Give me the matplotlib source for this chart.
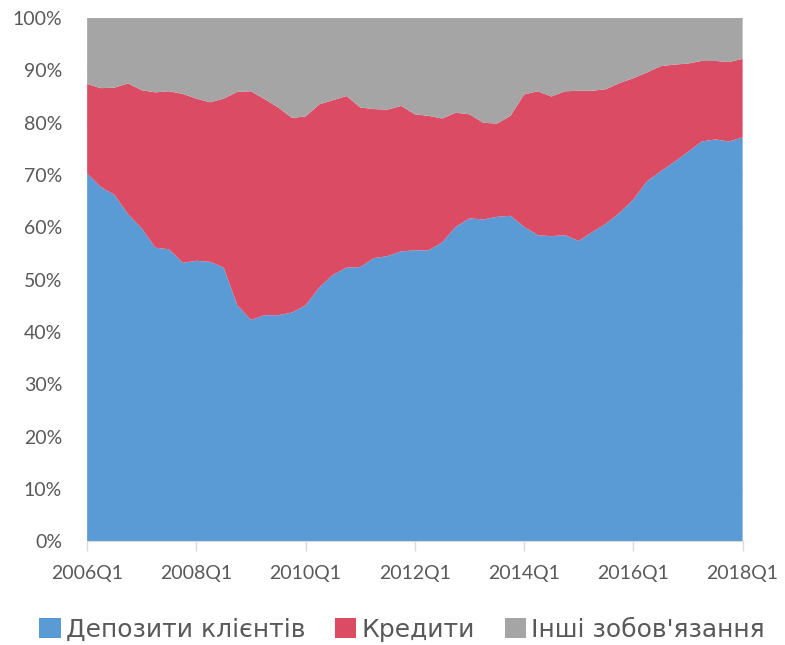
import numpy as np
import matplotlib
matplotlib.use("Agg")
import matplotlib.pyplot as plt
from matplotlib.ticker import PercentFormatter

plt.rcParams['font.family'] = ['Lato', 'Roboto', 'DejaVu Sans']

# quarterly shares, % (2006Q1 .. 2018Q1)
quarters = [f"{y}Q{q}" for y in range(2006, 2019) for q in range(1, 5)][:49]

deposits = [70.3, 67.7, 66.2, 62.5, 59.8, 56.1, 55.8, 53.2, 53.6, 53.4, 52.3,
            45.1, 42.3, 43.2, 43.2, 43.7, 45.1,
            48.5, 50.9, 52.3, 52.4, 54.1, 54.5, 55.4, 55.6, 55.6, 57.1, 60.1,
            61.7, 61.5, 62.0, 62.2,
            60.1, 58.5, 58.3, 58.5, 57.4, 59.1, 60.7, 62.8, 65.3, 68.8, 70.7,
            72.5, 74.4, 76.4, 76.8, 76.4, 77.2]
credits = [17.1, 18.9, 20.5, 25.0, 26.4, 29.7, 30.2, 32.3, 31.0, 30.5, 32.3,
           40.8, 43.7, 41.3, 39.7, 37.2, 36.1,
           35.0, 33.4, 32.8, 30.5, 28.5, 28.0, 27.8, 26.0, 25.7, 23.7, 21.8,
           19.9, 18.5, 17.8, 19.1,
           25.3, 27.5, 26.7, 27.5, 28.7, 27.0, 25.7, 24.8, 23.2, 20.8, 20.1,
           18.6, 16.9, 15.4, 15.0, 15.2, 15.0]
other = [12.6, 13.4, 13.3, 12.5, 13.8, 14.2, 14.0, 14.5, 15.4, 16.1, 15.4,
         14.1, 14.0, 15.5, 17.1, 19.1, 18.8,
         16.5, 15.7, 14.9, 17.1, 17.4, 17.5, 16.8, 18.4, 18.7, 19.2, 18.1,
         18.4, 20.0, 20.2, 18.7,
         14.6, 14.0, 15.0, 14.0, 13.9, 13.9, 13.6, 12.4, 11.5, 10.4, 9.2,
         8.9, 8.7, 8.2, 8.2, 8.4, 7.8]

labels = ["Депозити клієнтів", "Кредити", "Інші зобов'язання"]
colors = ["#5B9BD5", "#DB4C64", "#A5A5A5"]

data = np.array([deposits, credits, other])
data = data / data.sum(axis=0) * 100
x = np.arange(len(quarters))

fig = plt.figure(figsize=(7.85, 6.45), dpi=100)
ax = fig.add_axes([0.111, 0.161, 0.835, 0.811])

ax.stackplot(x, data, labels=labels, colors=colors, zorder=2)

ax.set_xlim(0, len(quarters) - 1)
ax.set_ylim(0, 100)
ax.set_yticks(np.arange(0, 101, 10))
ax.yaxis.set_major_formatter(PercentFormatter(decimals=0))
ax.set_xticks(x[::8])
ax.set_xticklabels(quarters[::8])

ax.yaxis.grid(True, color="#D9D9D9", linewidth=1, zorder=0)
for s in ["left", "right", "top"]:
    ax.spines[s].set_visible(False)
ax.spines["bottom"].set_color("#D9D9D9")
ax.spines["bottom"].set_zorder(3)

ax.tick_params(axis="y", length=0, pad=18, labelsize=14, labelcolor="#595959")
ax.tick_params(axis="x", length=7, width=1, color="#D9D9D9", pad=10,
               labelsize=14, labelcolor="#595959")

fig.legend(loc="center", bbox_to_anchor=(0.512, 0.024), ncol=3, frameon=False,
           prop={"family": ["DejaVu Sans"], "size": 18},
           labelcolor="#595959", handlelength=0.85, handleheight=0.85,
           handletextpad=0.2, columnspacing=1.2, borderaxespad=0)

fig.savefig("out.png", dpi=100)
